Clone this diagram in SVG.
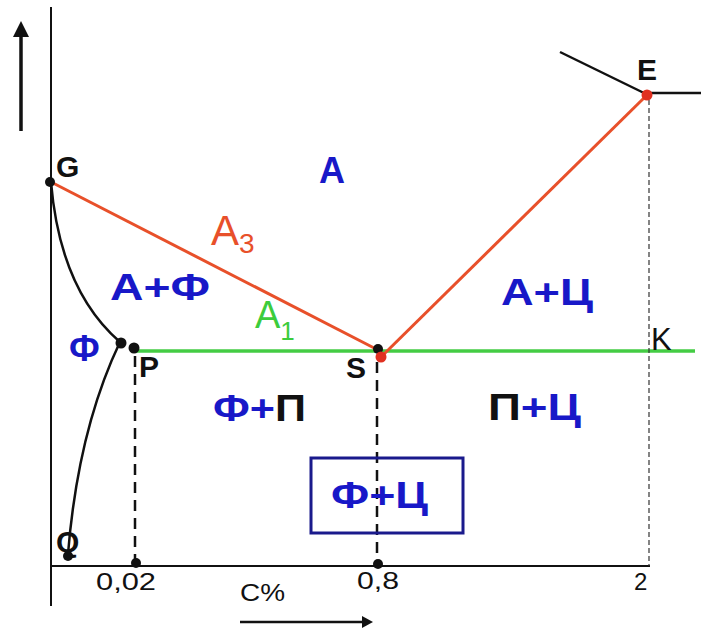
<svg xmlns="http://www.w3.org/2000/svg" width="701" height="630" viewBox="0 0 701 630">
<style>
.ph{font-family:"Liberation Sans",Arial,sans-serif;font-weight:bold;font-size:36px;fill:#1818c8}
.bk{fill:#111}
.pt{font-family:"Liberation Sans",Arial,sans-serif;font-weight:bold;font-size:30px;fill:#111}
.num{font-family:"Liberation Sans",Arial,sans-serif;font-size:24px;fill:#111}
.ax{stroke:#111;stroke-width:2;fill:none}
.cv{stroke:#111;stroke-width:2.5;fill:none}
.dash{stroke:#111;stroke-width:2.5;stroke-dasharray:11 7;fill:none}
.fdash{stroke:#333;stroke-width:1.2;stroke-dasharray:5 3;fill:none}
.red{stroke:#e8502a;stroke-width:3;fill:none}
.grn{stroke:#44cc44;stroke-width:3.5;fill:none}
.dot{fill:#111}
.rdot{fill:#e03020}
</style>
<rect width="701" height="630" fill="#fff"/>
<g id="axes">
<line class="ax" x1="51" y1="7" x2="51" y2="606"/>
<line class="ax" x1="51" y1="566" x2="650" y2="566"/>
</g>
<g id="connectors">
<line x1="21" y1="131" x2="21" y2="36" stroke="#111" stroke-width="3.5"/>
<path d="M13,37 L21,21 L29,37 z" fill="#111"/>
<line x1="240" y1="622" x2="364" y2="622" stroke="#111" stroke-width="2.5"/>
<path d="M362,616 L373,622 L362,628 z" fill="#111"/>
<path class="cv" d="M51,182 Q60,290 120,342"/>
<path class="cv" d="M120,342 Q78,430 68,554"/>
<line class="grn" x1="135" y1="351" x2="695" y2="351"/>
<line class="red" x1="51" y1="182" x2="378" y2="350"/>
<line class="red" x1="381" y1="357" x2="647" y2="95"/>
<line class="cv" x1="560" y1="52" x2="644" y2="93"/>
<line class="cv" x1="642" y1="93" x2="701" y2="93"/>
<line class="dash" x1="135" y1="356" x2="135" y2="564"/>
<line class="dash" x1="377" y1="362" x2="377" y2="564"/>
<line class="fdash" x1="649" y1="100" x2="649" y2="566"/>
</g>
<g id="points">
<circle class="dot" cx="50" cy="182" r="5"/>
<circle class="dot" cx="121" cy="343" r="5.5"/>
<circle class="dot" cx="134" cy="348" r="5.5"/>
<circle class="dot" cx="378" cy="349" r="5"/>
<circle class="rdot" cx="381" cy="357" r="5.5"/>
<circle class="rdot" cx="647" cy="95" r="5.5"/>
<circle class="dot" cx="68" cy="556" r="5"/>
<circle class="dot" cx="136" cy="563" r="5"/>
<circle class="dot" cx="378" cy="564" r="5"/>
</g>
<g id="box">
<rect x="311" y="458" width="152" height="75" fill="none" stroke="#1a1a8c" stroke-width="3"/>
</g>
<g id="labels">
<text class="pt" x="56" y="177">G</text>
<text class="pt" x="637" y="80">E</text>
<text class="pt" x="139" y="377">P</text>
<text class="pt" x="346" y="378">S</text>
<text class="pt" x="56" y="552">Q</text>
<text class="num" x="651" y="350" style="font-size:31px">K</text>
<text class="num" x="96" y="590" textLength="60" lengthAdjust="spacingAndGlyphs">0,02</text>
<text class="num" x="357" y="589" textLength="42" lengthAdjust="spacingAndGlyphs">0,8</text>
<text class="num" x="634" y="590">2</text>
<text class="num" x="240" y="601" textLength="45" lengthAdjust="spacingAndGlyphs">C%</text>
<text class="ph" x="319" y="183" font-size="38">А</text>
<text class="ph" x="110" y="300" textLength="100" lengthAdjust="spacingAndGlyphs">А+Ф</text>
<text x="211" y="245" font-family="Liberation Sans,Arial,sans-serif" font-size="42" fill="#e8502a">А<tspan font-size="28" dy="8">3</tspan></text>
<text x="255" y="328" font-family="Liberation Sans,Arial,sans-serif" font-size="38" fill="#3ccc3c">А<tspan font-size="26" dy="12">1</tspan></text>
<text class="ph" x="501" y="305" textLength="92" lengthAdjust="spacingAndGlyphs">А+Ц</text>
<text class="ph" x="69" y="361" font-size="30">Ф</text>
<text class="ph" x="213" y="421" textLength="93" lengthAdjust="spacingAndGlyphs">Ф+<tspan class="bk">П</tspan></text>
<text class="ph" x="488" y="420" textLength="93" lengthAdjust="spacingAndGlyphs"><tspan class="bk">П</tspan>+Ц</text>
<text class="ph" x="331" y="508" textLength="97" lengthAdjust="spacingAndGlyphs">Ф+Ц</text>
</g>
</svg>
